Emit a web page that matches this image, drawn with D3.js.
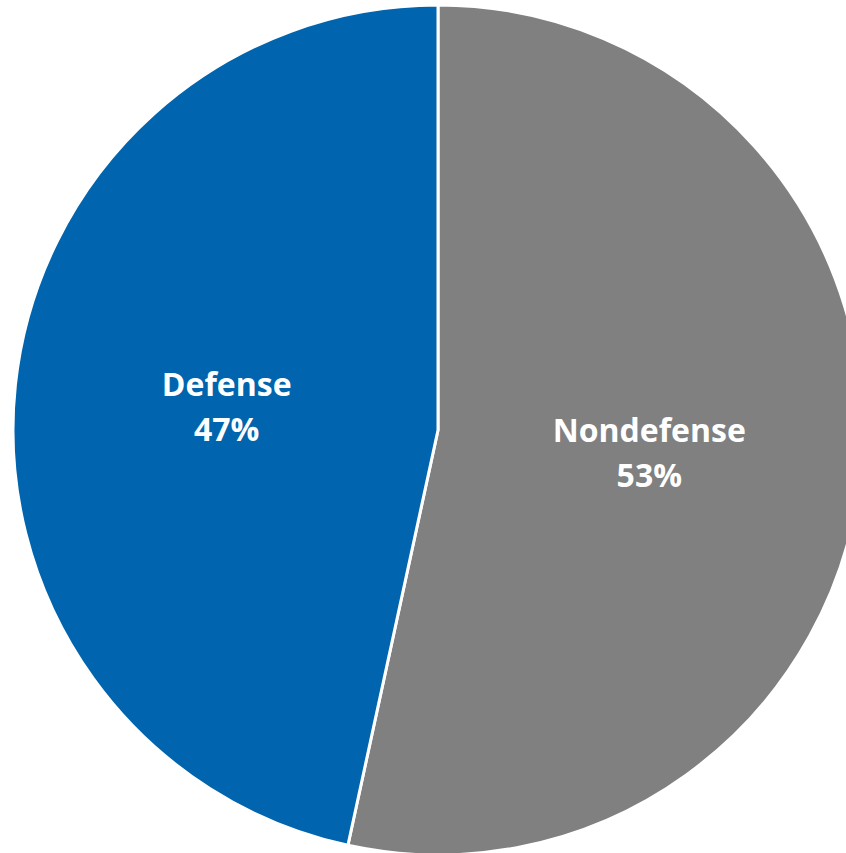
<!DOCTYPE html>
<html>
<head>
<meta charset="utf-8">
<script src="https://cdn.jsdelivr.net/npm/d3@7"></script>
<style>
html,body{margin:0;padding:0;background:#fff;}
svg{display:block;}
</style>
</head>
<body>
<svg id="chart" width="846" height="853"></svg>
<script>
const categories = ["Nondefense", "Defense"];
const values = [53.4, 46.6];
const valueLabels = ["53%", "47%"];
const colors = ["#808080", "#0065ae"];

const svg = d3.select("#chart");
const cx = 438, cy = 430, R = 425;
const g = svg.append("g").attr("transform", `translate(${cx},${cy})`);

const data = categories.map((c, i) => ({cat: c, value: values[i], label: valueLabels[i], color: colors[i]}));
const pie = d3.pie().sort(null).value(d => d.value);
const arc = d3.arc().innerRadius(0).outerRadius(R);
const arcs = pie(data);

g.selectAll("path.slice").data(arcs).join("path")
  .attr("class", "slice")
  .attr("d", arc)
  .attr("fill", d => d.data.color)
  .attr("stroke", "#fff")
  .attr("stroke-width", 3)
  .attr("stroke-linejoin", "miter");

const lbl = g.selectAll("text.lbl").data(arcs).join("text")
  .attr("class", "lbl")
  .attr("transform", d => { const [x, y] = arc.centroid(d); return `translate(${x},${y})`; })
  .attr("text-anchor", "middle")
  .attr("fill", "#fff")
  .style("font-family", "'Open Sans', sans-serif")
  .style("font-weight", "700")
  .style("font-size", "32px");
lbl.append("tspan").attr("x", 0).attr("y", -11).text(d => d.data.cat);
lbl.append("tspan").attr("x", 0).attr("y", 34).text(d => d.data.label);
</script>
</body>
</html>
